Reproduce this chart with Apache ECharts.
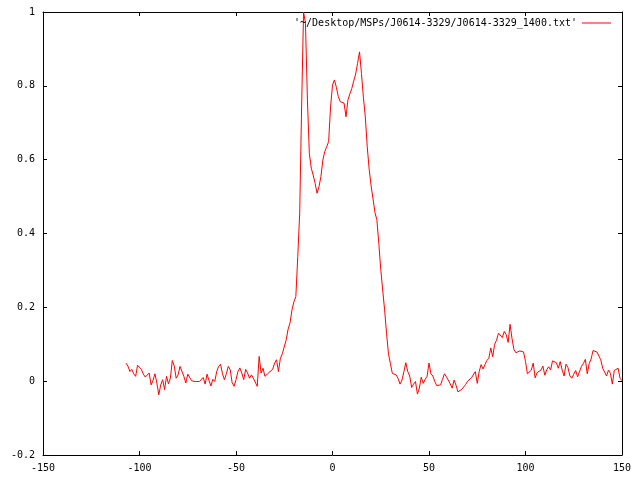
<!DOCTYPE html>
<html>
<head>
<meta charset="utf-8">
<script src="https://cdn.jsdelivr.net/npm/echarts@6/dist/echarts.min.js"></script>
<style>
html,body{margin:0;padding:0;background:#fff;}
#c{width:640px;height:480px;}
</style>
</head>
<body>
<div id="c"></div>
<script>
// Profile bins: phase starts at -107, one unit per bin
const phaseStart = -107;
const phaseStep = 1;
const seriesName = "'~/Desktop/MSPs/J0614-3329/J0614-3329_1400.txt'";
const xTicks = [-150, -100, -50, 0, 50, 100, 150];
const yTicks = [-0.2, 0, 0.2, 0.4, 0.6, 0.8, 1];

// phase -107 .. -28
const leftBaseline = [
  0.049,0.041,0.026,0.032,0.020,0.013,0.043,0.040,0.032,0.019,
  0.011,0.014,0.022,-0.010,0.002,0.020,-0.005,-0.037,-0.010,0.004,
  -0.023,0.013,-0.007,0.008,0.056,0.041,0.008,0.017,0.040,0.035,
  0.013,-0.005,0.019,0.022,0.001,-0.001,-0.001,-0.005,-0.001,0.004,
  0.010,-0.008,0.019,0.002,-0.013,0.005,-0.001,0.026,0.040,0.046,
  0.020,0.004,0.020,0.040,0.031,-0.004,-0.014,0.004,0.026,0.036,
  0.022,0.004,0.032,0.022,0.008,0.017,0.008,0.013,-0.014,0.067,
  0.022,0.035,0.013,0.013,0.023,0.026,0.032,0.049,0.058,0.026
];
// phase -27 .. 32
const mainPulse = [
  0.062,0.074,0.075,0.112,0.141,0.158,0.193,0.215,0.229,0.337,
  0.455,0.743,1.000,0.970,0.762,0.617,0.577,0.558,0.536,0.509,
  0.527,0.554,0.599,0.622,0.635,0.649,0.743,0.802,0.816,0.796,
  0.771,0.757,0.757,0.753,0.716,0.762,0.778,0.793,0.813,0.832,
  0.861,0.892,0.834,0.769,0.716,0.635,0.574,0.529,0.494,0.457,
  0.437,0.373,0.303,0.247,0.193,0.130,0.074,0.048,0.021,0.025
];
// phase 33 .. 76
const rightBaseline = [
  0.017,0.007,-0.008,0.003,0.026,0.050,0.026,0.014,-0.017,-0.008,
  -0.001,-0.035,-0.019,0.011,-0.006,0.005,0.013,0.049,0.020,0.014,
  -0.001,-0.012,-0.008,-0.010,0.005,0.020,0.012,0.012,-0.007,-0.019,
  0.003,-0.011,-0.029,-0.031,-0.022,-0.018,-0.009,0.000,0.001,0.009,
  0.014,0.026,-0.006,0.026
];
// phase 77 .. 150
const interpulse = [
  0.045,0.033,0.045,0.056,0.062,0.090,0.066,0.100,0.111,0.130,
  0.135,0.118,0.135,0.126,0.105,0.154,0.116,0.086,0.077,0.077,
  0.082,0.080,0.079,0.053,0.020,0.021,0.030,0.049,0.009,0.023,
  0.026,0.030,0.041,0.016,0.031,0.039,0.030,0.055,0.052,0.050,
  0.035,0.053,0.030,0.014,0.046,0.037,0.014,0.008,0.019,0.029,
  0.012,0.014,0.040,0.048,0.059,0.020,0.048,0.060,0.083,0.080,
  0.079,0.077,0.058,0.035,0.039,0.014,0.030,0.021,-0.008,0.029,
  0.026,0.035,0.008,0.001
];

const profile = leftBaseline.concat(mainPulse, rightBaseline, interpulse);
const data = profile.map((v, i) => [phaseStart + i * phaseStep, v]);

const FONT = 'DejaVu Sans Mono';
const xMin = xTicks[0], xMax = xTicks[xTicks.length - 1], xInt = xTicks[1] - xTicks[0];
const yMin = yTicks[0], yMax = yTicks[yTicks.length - 1], yInt = 0.2;

function fmtY(v){ return String(+v.toFixed(1)); }

const axisLine = {show:true, onZero:false, lineStyle:{color:'#000', width:1}};
const axisTick = {show:true, inside:true, length:4, lineStyle:{color:'#000', width:1}};

const chart = echarts.init(document.getElementById('c'), null, {renderer:'canvas'});
chart.setOption({
  animation:false,
  backgroundColor:'#fff',
  grid:{left:43, right:18, top:12, bottom:25, containLabel:false},
  legend:{
    show:true,
    data:[{name:seriesName, icon:'rect'}],
    right:29, top:18,
    padding:0,
    align:'right',
    itemWidth:29, itemHeight:1, itemGap:0,
    itemStyle:{color:'#ff0000', borderWidth:0},
    textStyle:{fontFamily:FONT, fontSize:10, color:'#000'},
    selectedMode:false
  },
  xAxis:[
    {type:'value', position:'bottom', min:xMin, max:xMax, interval:xInt,
     axisLine, axisTick, splitLine:{show:false},
     axisLabel:{show:true, margin:8, fontFamily:FONT, fontSize:10, color:'#000'}},
    {type:'value', position:'top', min:xMin, max:xMax, interval:xInt,
     axisLine, axisTick, splitLine:{show:false}, axisLabel:{show:false}}
  ],
  yAxis:[
    {type:'value', position:'left', min:yMin, max:yMax, interval:yInt,
     axisLine, axisTick, splitLine:{show:false},
     axisLabel:{show:true, margin:8, fontFamily:FONT, fontSize:10, color:'#000', formatter:fmtY}},
    {type:'value', position:'right', min:yMin, max:yMax, interval:yInt,
     axisLine, axisTick, splitLine:{show:false}, axisLabel:{show:false}}
  ],
  series:[{
    name:seriesName,
    type:'line',
    xAxisIndex:0, yAxisIndex:0,
    data:data,
    symbol:'none',
    showSymbol:false,
    lineStyle:{color:'#ff0000', width:1},
    itemStyle:{color:'#ff0000'},
    silent:true
  }]
});
</script>
</body>
</html>
